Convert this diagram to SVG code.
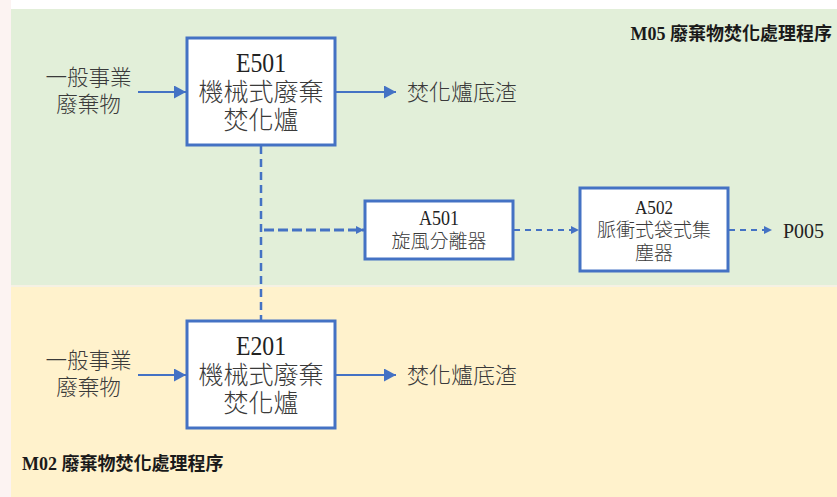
<svg xmlns="http://www.w3.org/2000/svg" width="837" height="497" viewBox="0 0 837 497">
<defs>
<marker id="ah" viewBox="0 0 12 13" refX="12" refY="6.5" markerWidth="12" markerHeight="13" markerUnits="userSpaceOnUse" orient="auto"><path d="M0,0 L12,6.5 L0,13 z" fill="#4472C4"/></marker>
<marker id="ahs" viewBox="0 0 8 8" refX="8" refY="4" markerWidth="8" markerHeight="8" markerUnits="userSpaceOnUse" orient="auto"><path d="M0,0 L8,4 L0,8 z" fill="#4472C4"/></marker>
<style>
.box{fill:#fff;stroke:#4472C4;stroke-width:3}
.lat{font-family:"Liberation Serif",serif;fill:#222;text-anchor:middle}
.cjk{font-family:"Noto Sans CJK TC","Noto Sans CJK SC",sans-serif;font-weight:300;fill:#3a3a3a;text-anchor:middle}
.title{font-family:"Liberation Serif","Noto Sans CJK TC",serif;font-weight:bold;font-size:18px;fill:#1a1a1a}
.solid{stroke:#4472C4;stroke-width:2.2;fill:none}
.dashv{stroke:#4472C4;stroke-width:2.5;fill:none;stroke-dasharray:8,5}
.dashh{stroke:#4472C4;stroke-width:3;fill:none;stroke-dasharray:10,4}
.dash{stroke:#4472C4;stroke-width:2;fill:none;stroke-dasharray:6,5}
</style>
</defs>
<rect x="0" y="0" width="837" height="497" fill="#FCF3F2"/>
<rect x="11" y="0" width="826" height="9" fill="#fff"/>
<rect x="11" y="9" width="826" height="276" fill="#E2EFD9"/>
<rect x="11" y="285" width="826" height="2" fill="#F5F1E4"/>
<rect x="11" y="287" width="826" height="210" fill="#FFF2CC"/>
<text class="title" x="832" y="40" style="text-anchor:end">M05 廢棄物焚化處理程序</text>
<text class="title" x="22" y="470">M02 廢棄物焚化處理程序</text>
<g id="connectors">
<line class="solid" x1="138" y1="92" x2="186" y2="92" marker-end="url(#ah)"/>
<line class="solid" x1="336" y1="92" x2="396" y2="92" marker-end="url(#ah)"/>
<line class="solid" x1="138" y1="375" x2="186" y2="375" marker-end="url(#ah)"/>
<line class="solid" x1="336" y1="375" x2="396" y2="375" marker-end="url(#ah)"/>
<line class="dashv" x1="261" y1="146" x2="261" y2="320"/>
<line class="dashh" x1="264" y1="230" x2="364" y2="230" marker-end="url(#ahs)"/>
<line class="dash" x1="514" y1="230" x2="579" y2="230" marker-end="url(#ahs)"/>
<line class="dash" x1="729" y1="230" x2="772" y2="230" marker-end="url(#ahs)"/>
</g>
<g id="in1"><text class="cjk" font-size="22" transform="translate(88.5,85) scale(0.98,1)">一般事業</text><text class="cjk" font-size="22" transform="translate(88.5,112) scale(0.98,1)">廢棄物</text></g>
<g id="in2"><text class="cjk" font-size="22" transform="translate(88.5,368) scale(0.98,1)">一般事業</text><text class="cjk" font-size="22" transform="translate(88.5,395) scale(0.98,1)">廢棄物</text></g>
<g id="out1"><text class="cjk" font-size="22" transform="translate(462,100)">焚化爐底渣</text></g>
<g id="out2"><text class="cjk" font-size="22" transform="translate(462,383)">焚化爐底渣</text></g>
<g id="E501"><rect class="box" x="187" y="38" width="148" height="107"/>
<text class="lat" font-size="27" transform="translate(261,72) scale(0.88,1)">E501</text>
<text class="cjk" font-size="25" transform="translate(261,101)">機械式廢棄</text>
<text class="cjk" font-size="25" transform="translate(261,129)">焚化爐</text></g>
<g id="E201"><rect class="box" x="187" y="321" width="148" height="107"/>
<text class="lat" font-size="27" transform="translate(261,355) scale(0.88,1)">E201</text>
<text class="cjk" font-size="25" transform="translate(261,384)">機械式廢棄</text>
<text class="cjk" font-size="25" transform="translate(261,412)">焚化爐</text></g>
<g id="A501"><rect class="box" x="365" y="201" width="148" height="58"/>
<text class="lat" font-size="20" transform="translate(439,225) scale(0.9,1)">A501</text>
<text class="cjk" font-size="19" transform="translate(439,248)">旋風分離器</text></g>
<g id="A502"><rect class="box" x="580" y="188" width="148" height="83"/>
<text class="lat" font-size="19" transform="translate(654,214) scale(0.9,1)">A502</text>
<text class="cjk" font-size="19" transform="translate(654,237)">脈衝式袋式集</text>
<text class="cjk" font-size="19" transform="translate(654,260)">塵器</text></g>
<g id="P005"><text class="lat" font-size="21" style="text-anchor:start" transform="translate(783,238) scale(0.95,1)">P005</text></g>
</svg>
